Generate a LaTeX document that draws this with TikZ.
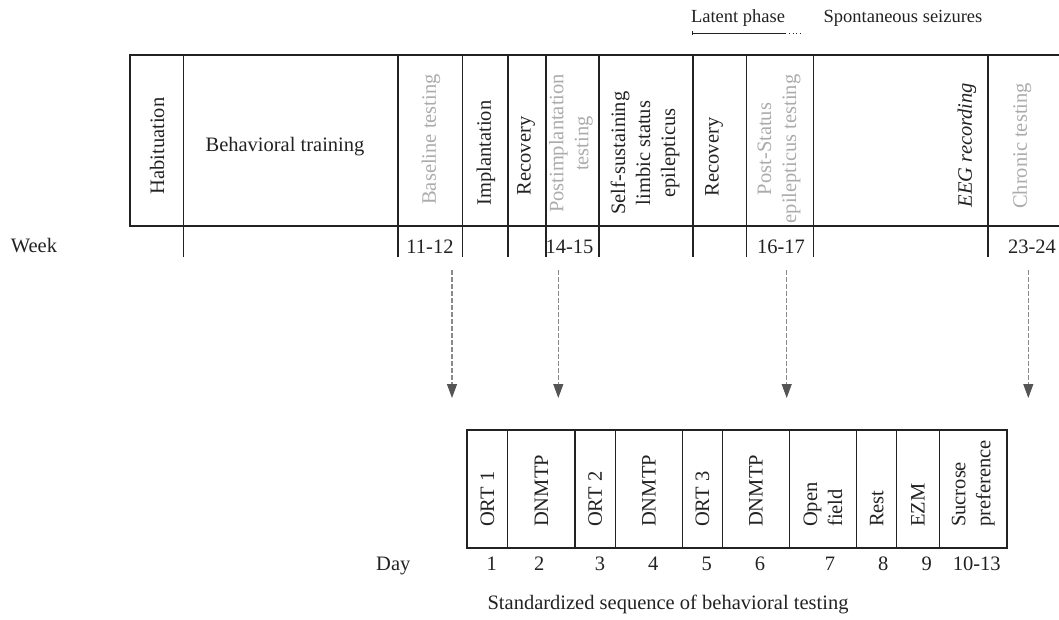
\documentclass[tikz,border=0pt]{standalone}
\usepackage{fontspec}
\setmainfont{Liberation Serif}
\usetikzlibrary{arrows.meta}
\definecolor{ink}{HTML}{222222}
\definecolor{lite}{HTML}{ABABAB}
\definecolor{arr}{HTML}{8A8A8A}
\definecolor{tipc}{HTML}{555555}
\begin{document}
\begin{tikzpicture}[x=1pt,y=-1pt,
  txt/.style={font=\fontsize{20.5}{25}\selectfont, text=ink, inner sep=0pt},
  smalltxt/.style={font=\fontsize{18.5}{22}\selectfont, text=ink, inner sep=0pt},
  vtxt/.style={txt, rotate=90, align=center},
  gtxt/.style={vtxt, text=lite},
  frame/.style={draw=ink, line width=1.8pt},
  divider/.style={draw=ink, line width=1.2pt},
  testarrow/.style={draw=arr, line width=1.1pt, dash pattern=on 4.5pt off 2.5pt,
    -{Triangle[length=14pt,width=10pt,fill=tipc,color=tipc]}},
]
\useasboundingbox (0,0) rectangle (1059,619);

% ---------- top timeline box ----------
\draw[frame] (1059,55) -- (130,55) -- (130,226) -- (1059,226);
\foreach \x in {183.6,398,462.5,508,546,599,693,746.6,813.4,988}
  \draw[divider] (\x,55) -- (\x,257);

\node[vtxt] (hab) at (157,146) {Habituation};
\node[txt, anchor=base] (train) at (285,151) {Behavioral training};
\node[gtxt] (base) at (431,139.5) {Baseline testing};
\node[vtxt] (impl) at (486,153) {Implantation};
\node[vtxt] (rec1) at (526,156) {Recovery};
\node[gtxt] (post) at (571,143.5) {Postimplantation\\testing};
\node[vtxt] (sse) at (645,153) {Self-sustaining\\limbic status\\epilepticus};
\node[vtxt] (rec2) at (714,157) {Recovery};
\node[gtxt] (pse) at (779,149) {Post-Status\\epilepticus testing};
\node[vtxt, font=\fontsize{20.5}{25}\selectfont\itshape] (eeg) at (967,145) {EEG recording};
\node[gtxt] (chron) at (1022,146) {Chronic testing};

% phases above
\node[smalltxt, anchor=base] (latent) at (738,22) {Latent phase};
\node[smalltxt, anchor=base] (spont) at (903,22) {Spontaneous seizures};
\coordinate (lphs) at (692,33);
\coordinate (lphe) at (786,33);
\coordinate (ldots) at (801,33);
\draw[ink, line width=0.9pt, {Bar[width=4pt]}-] (lphs) -- (lphe);
\draw[ink, line width=1pt, dash pattern=on 1pt off 2.5pt] (lphe) ++(3,0) -- (ldots);

% week row
\node[txt, anchor=base] (week) at (34,252) {Week};
\node[txt, anchor=base] (w1) at (430,253) {11-12};
\node[txt, anchor=base] (w2) at (569.5,253) {14-15};
\node[txt, anchor=base] (w3) at (781,253) {16-17};
\node[txt, anchor=base] (w4) at (1032,253) {23-24};

% ---------- arrows ----------
\coordinate (a1s) at (452,270);  \coordinate (a1e) at (452,398);
\coordinate (a2s) at (558.3,270); \coordinate (a2e) at (558.3,398);
\coordinate (a3s) at (786.7,270); \coordinate (a3e) at (786.7,398);
\coordinate (a4s) at (1028.3,270); \coordinate (a4e) at (1028.3,398);
\draw[testarrow] (a1s) -- (a1e);
\draw[testarrow] (a2s) -- (a2e);
\draw[testarrow] (a3s) -- (a3e);
\draw[testarrow] (a4s) -- (a4e);

% ---------- bottom sequence box ----------
\draw[frame] (467.3,430) rectangle (1007.3,547.7);
\foreach \x in {507.7,575,615.3,682.3,722.7,789.3,856.7,896.7,939.3}
  \draw[divider] (\x,430) -- (\x,547.7);

\node[vtxt, anchor=west] (s1) at (487.5,527) {ORT 1};
\node[vtxt, anchor=west] (s2) at (541.4,527) {DNMTP};
\node[vtxt, anchor=west] (s3) at (595.2,527) {ORT 2};
\node[vtxt, anchor=west] (s4) at (648.8,527) {DNMTP};
\node[vtxt, anchor=west] (s5) at (702.5,527) {ORT 3};
\node[vtxt, anchor=west] (s6) at (756,527) {DNMTP};
\node[vtxt, anchor=west, align=left] (s7) at (823,527) {Open\\field};
\node[vtxt, anchor=west] (s8) at (876.7,527) {Rest};
\node[vtxt, anchor=west] (s9) at (918,527) {EZM};
\node[vtxt, anchor=west, align=left] (s10) at (973.3,527) {Sucrose\\preference};

% day row
\node[txt, anchor=base] (day) at (393.3,570) {Day};
\node[txt, anchor=base] (d1) at (491.7,570) {1};
\node[txt, anchor=base] (d2) at (539.3,570) {2};
\node[txt, anchor=base] (d3) at (600,570) {3};
\node[txt, anchor=base] (d4) at (653.3,570) {4};
\node[txt, anchor=base] (d5) at (706.7,570) {5};
\node[txt, anchor=base] (d6) at (760,570) {6};
\node[txt, anchor=base] (d7) at (830,570) {7};
\node[txt, anchor=base] (d8) at (883.3,570) {8};
\node[txt, anchor=base] (d9) at (926.7,570) {9};
\node[txt, anchor=base] (d10) at (976.7,570) {10-13};

\node[txt, anchor=base] (caption) at (668,609) {Standardized sequence of behavioral testing};
\end{tikzpicture}
\end{document}
